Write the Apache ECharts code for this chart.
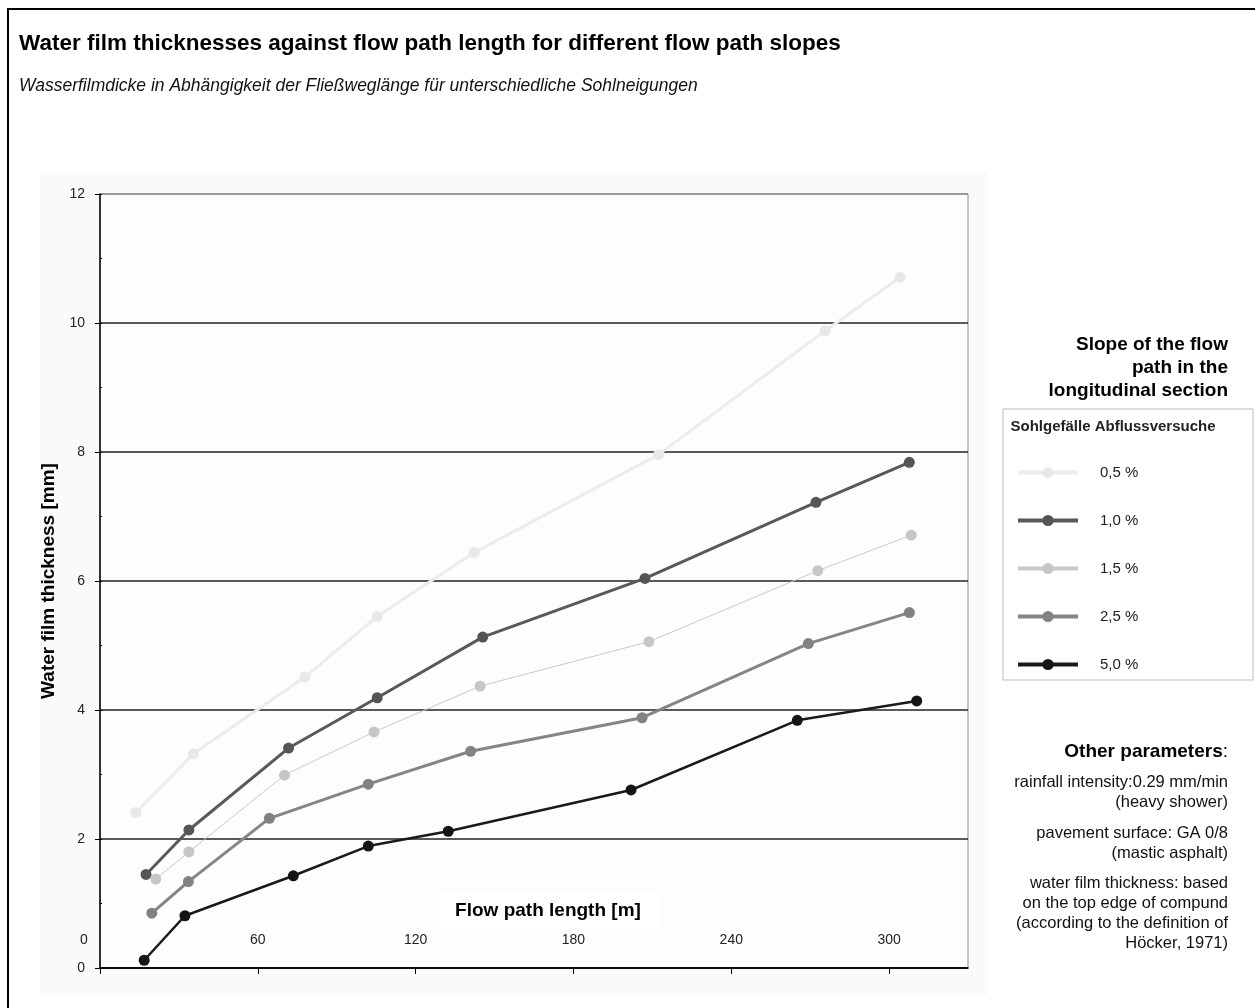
<!DOCTYPE html>
<html>
<head>
<meta charset="utf-8">
<script src="https://cdn.jsdelivr.net/npm/echarts@6/dist/echarts.min.js"></script>
<style>
html,body{margin:0;padding:0;background:#fff;}
#chart{width:1255px;height:1008px;}
</style>
</head>
<body>
<div id="chart"></div>
<script>
// ---- data ----
const seriesNames = ['0,5 %', '1,0 %', '1,5 %', '2,5 %', '5,0 %'];
const x05 = [13.6, 35.5, 77.9, 105.4, 142.2, 212.3, 275.7, 304.2];
const y05 = [2.41, 3.32, 4.51, 5.45, 6.44, 7.96, 9.88, 10.71];
const x10 = [17.5, 33.8, 71.7, 105.4, 145.5, 207.2, 272.2, 307.7];
const y10 = [1.45, 2.14, 3.41, 4.19, 5.13, 6.04, 7.22, 7.84];
const x15 = [21.2, 33.8, 70.1, 104.2, 144.5, 208.7, 272.9, 308.4];
const y15 = [1.38, 1.80, 2.99, 3.66, 4.37, 5.06, 6.16, 6.71];
const x25 = [19.7, 33.6, 64.4, 102.0, 140.9, 206.1, 269.3, 307.7];
const y25 = [0.85, 1.34, 2.32, 2.85, 3.36, 3.88, 5.03, 5.51];
const x50 = [16.8, 32.3, 73.5, 102.0, 132.4, 201.9, 265.1, 310.5];
const y50 = [0.12, 0.81, 1.43, 1.89, 2.12, 2.76, 3.84, 4.14];
const xTicks = [0, 60, 120, 180, 240, 300];
const xLabels = [60, 120, 180, 240, 300];

const titleText = 'Water film thicknesses against flow path length for different flow path slopes';
const subText = 'Wasserfilmdicke in Abhängigkeit der Fließweglänge für unterschiedliche Sohlneigungen';
const xName = 'Flow path length [m]';
const yName = 'Water film thickness [mm]';
const slopeLines = ['Slope of the flow', 'path in the', 'longitudinal section'];
const legendTitle = 'Sohlgefälle Abflussversuche';
const paramHead = 'Other parameters';
const paramLines = ['rainfall intensity:0.29 mm/min', '(heavy shower)', 'pavement surface: GA 0/8', '(mastic asphalt)', 'water film thickness: based', 'on the top edge of compund', '(according to the definition of', 'Höcker, 1971)'];

const pairs = (xs, ys) => xs.map((x, i) => [x, ys[i]]);
const allX = [x05, x10, x15, x25, x50];
const allY = [y05, y10, y15, y25, y50];
const lineColors = ['#ececec', '#595959', '#c9c9c9', '#858585', '#1a1a1a'];
const symColors = ['#e8e8e8', '#555555', '#c6c6c6', '#828282', '#151515'];
const lineWidths = [3, 3, 1, 3, 2.5];

const chart = echarts.init(document.getElementById('chart'), null, {renderer: 'canvas'});
const FONT = '"Liberation Sans", Arial, sans-serif';
const NARROW = '"Liberation Sans Narrow", "Liberation Sans", Arial, sans-serif';

const graphics = [
  {type: 'rect', shape: {x: 40, y: 172, width: 947, height: 823}, style: {fill: '#fafafa'}, z: -10, silent: true},
  {type: 'rect', shape: {x: 8, y: 9, width: 1300, height: 1100}, style: {fill: 'none', stroke: '#000', lineWidth: 2}, z: 10, silent: true},
  {type: 'text', x: 19, y: 44, style: {text: titleText, font: 'bold 22.5px ' + FONT, fill: '#000', textVerticalAlign: 'middle'}},
  {type: 'text', x: 19, y: 86, style: {text: subText, font: 'italic 17.5px ' + FONT, fill: '#111', textVerticalAlign: 'middle'}},
  {type: 'text', x: 84, y: 940, style: {text: '0', font: '14px ' + FONT, fill: '#222', textAlign: 'center', textVerticalAlign: 'middle'}, z: 5},
  {type: 'rect', shape: {x: 438, y: 892, width: 222, height: 38}, style: {fill: '#ffffff'}, z: 4},
  {type: 'text', x: 548, y: 911, style: {text: xName, font: 'bold 19px ' + FONT, fill: '#000', textAlign: 'center', textVerticalAlign: 'middle'}, z: 5},
  {type: 'rect', shape: {x: 1003, y: 409, width: 250, height: 271}, style: {fill: '#fff', stroke: '#bdbdbd', lineWidth: 1}, z: -5},
  {type: 'text', x: 1113, y: 427, style: {text: legendTitle, font: 'bold 15px ' + NARROW, fill: '#222', textAlign: 'center', textVerticalAlign: 'middle'}},
  {type: 'text', x: 1228, y: 752, style: {
    text: '{b|' + paramHead + '}{n|:}', textAlign: 'right', textVerticalAlign: 'middle',
    rich: {b: {font: 'bold 19px ' + FONT, fill: '#000'}, n: {font: '19px ' + FONT, fill: '#000'}}
  }}
];
slopeLines.forEach((t, i) => graphics.push({type: 'text', x: 1228, y: 345 + i * 23, style: {text: t, font: 'bold 19px ' + FONT, fill: '#000', textAlign: 'right', textVerticalAlign: 'middle'}}));
const paramY = [782, 802, 833, 853, 883, 903, 923, 943];
paramLines.forEach((t, i) => graphics.push({type: 'text', x: 1228, y: paramY[i], style: {text: t, font: '16.5px ' + FONT, fill: '#111', textAlign: 'right', textVerticalAlign: 'middle'}}));

const option = {
  animation: false,
  backgroundColor: '#ffffff',
  graphic: graphics,
  grid: {left: 100, top: 194, right: 287, bottom: 40, show: true, borderColor: '#8a8a8a', borderWidth: 1, backgroundColor: '#fdfdfd'},
  legend: {
    orient: 'vertical', left: 1011, top: 460, itemWidth: 60, itemHeight: 14, itemGap: 33,
    data: seriesNames,
    lineStyle: {width: 4},
    textStyle: {fontFamily: NARROW, fontSize: 15, color: '#222', padding: [0, 0, 0, 17]}
  },
  xAxis: {
    type: 'value', min: 0, max: 330, interval: 60,
    axisLine: {show: true, onZero: false, lineStyle: {color: '#000', width: 1.5}},
    axisTick: {show: true, customValues: xTicks, length: 6, lineStyle: {color: '#000'}},
    axisLabel: {show: true, inside: true, margin: 21, customValues: xLabels, fontFamily: FONT, fontSize: 14, color: '#222'},
    splitLine: {show: false}
  },
  yAxis: [{
    type: 'value', min: 0, max: 12, interval: 2,
    name: yName, nameLocation: 'middle', nameGap: 31,
    nameTextStyle: {fontFamily: FONT, fontWeight: 'bold', fontSize: 19, color: '#000'},
    axisLine: {show: true, lineStyle: {color: '#000', width: 1.5}},
    axisTick: {show: true, length: 5, lineStyle: {color: '#000'}},
    axisLabel: {margin: 15, fontFamily: FONT, fontSize: 14, color: '#222'},
    splitLine: {show: true, lineStyle: {color: ['#000', '#222', '#222', '#222', '#222', '#222', '#8a8a8a'], width: 1.5}}
  }, {
    type: 'value', min: 0, max: 12, interval: 1, position: 'left', offset: 0,
    axisLine: {show: false}, axisLabel: {show: false}, splitLine: {show: false},
    axisTick: {show: true, inside: true, length: 2, lineStyle: {color: '#000'}}
  }],
  series: seriesNames.map((n, i) => ({
    name: n, type: 'line', data: pairs(allX[i], allY[i]),
    symbol: 'circle', symbolSize: 11,
    lineStyle: {color: lineColors[i], width: lineWidths[i]},
    itemStyle: {color: symColors[i]},
    z: 3 + i
  }))
};
chart.setOption(option);
</script>
</body>
</html>
